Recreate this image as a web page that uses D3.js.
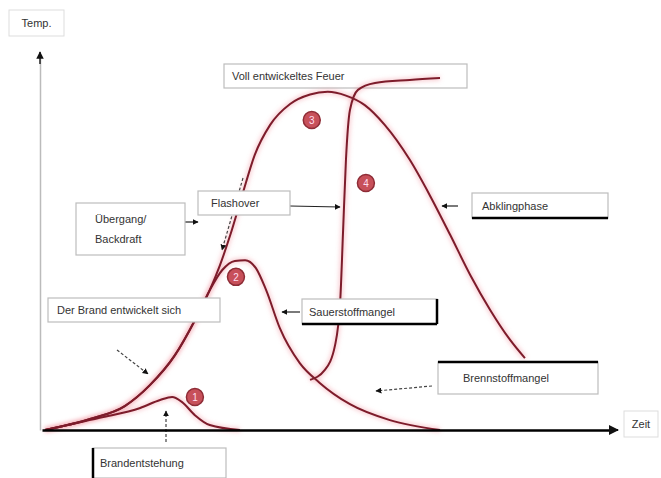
<!DOCTYPE html>
<html>
<head>
<meta charset="utf-8">
<script src="https://cdn.jsdelivr.net/npm/d3@7"></script>
<style>
  body { margin: 0; background: #fff; }
  svg text { font-family: "Liberation Sans", Arial, sans-serif; fill: #333; }
</style>
</head>
<body>
<div id="chart"></div>
<script>
'use strict';

// curves: [zeit, temperatur] in relative units 0..100
const curveGrowth = [[0,0],[7.9,2.9],[14.0,6.3],[18.4,11.8],[22.8,19.7],[26.3,28.9],[28.9,36.8],[30.7,43.4],[32.5,51.3],[34.6,61.8],[36.8,72.4],[39.5,80.3],[43.0,85.8],[46.5,88.3],[49.6,89.0],[52.8,88.0],[56.1,85.5],[59.6,80.3],[64.0,71.1],[67.5,61.8],[71.1,51.3],[74.6,40.8],[78.1,31.6],[81.6,23.7],[84.2,18.9]];
const curveSmall = [[0,0],[9.6,3.2],[16.7,5.8],[20.2,7.9],[22.3,8.7],[24.0,7.4],[26.3,3.9],[28.9,1.3],[34.2,0]];
const curveOxygen = [[0,0],[7.9,2.9],[14.0,6.3],[18.4,11.8],[22.8,19.7],[26.3,28.9],[28.9,36.8],[31.1,42.1],[33.3,44.5],[35.1,44.7],[37.0,42.6],[38.8,36.8],[41.2,26.8],[44.7,17.6],[48.2,12.4],[53.5,6.8],[60.5,2.6],[69.3,0]];
const curveBackdraft = [[46.5,13.2],[49.1,15.8],[50.9,22.4],[51.8,34.2],[52.3,52.6],[52.8,71.1],[53.5,84.2],[54.9,89.5],[57.9,91.3],[64.0,92.1],[69.3,92.6]];

const markerNumbers = ['1', '2', '3', '4'];
const markerPoints = [[26.3,8.7],[33.5,40.3],[46.8,81.6],[56.3,65]];

const axisLabels = ['Temp.', 'Zeit'];
const boxLabels = [
  ['Voll entwickeltes Feuer'],
  ['Flashover'],
  ['Übergang/', 'Backdraft'],
  ['Der Brand entwickelt sich'],
  ['Sauerstoffmangel'],
  ['Abklingphase'],
  ['Brennstoffmangel'],
  ['Brandentstehung']
];

const width = 661, height = 478;
const svg = d3.select('#chart').append('svg')
  .attr('width', width).attr('height', height);

const x = d3.scaleLinear().domain([0, 100]).range([45, 615]);
const y = d3.scaleLinear().domain([0, 100]).range([430, 50]);

const defs = svg.append('defs');
defs.append('marker').attr('id', 'arr')
  .attr('viewBox', '0 0 10 10').attr('refX', 9).attr('refY', 5)
  .attr('markerWidth', 5).attr('markerHeight', 5).attr('orient', 'auto')
  .append('path').attr('d', 'M0,0L10,5L0,10z').attr('fill', '#111');
defs.append('filter').attr('id', 'glow')
  .append('feGaussianBlur').attr('stdDeviation', 2);

const boxFrames = [
  { x: 224, y: 64, w: 243, h: 24, tx: 232, under: true },
  { x: 198, y: 191, w: 92, h: 24, tx: 211 },
  { x: 76, y: 203, w: 109, h: 52, tx: 95 },
  { x: 48, y: 298, w: 172, h: 24, tx: 57 },
  { x: 302, y: 299, w: 135, h: 25, tx: 309, black: ['right', 'bottom'] },
  { x: 472, y: 193, w: 136, h: 25, tx: 482, black: ['bottom'] },
  { x: 438, y: 362, w: 160, h: 32, tx: 463, black: ['top'] },
  { x: 93, y: 448, w: 133, h: 30, tx: 100, black: ['left'] }
];

function drawBox(d, f) {
  const g = svg.append('g');
  g.append('rect').attr('x', f.x).attr('y', f.y).attr('width', f.w).attr('height', f.h)
    .attr('fill', f.under ? 'none' : '#ffffff').attr('stroke', '#bdbdbd').attr('stroke-width', 1.2);
  (f.black || []).forEach(side => {
    const seg = {
      top: [f.x, f.y, f.x + f.w, f.y],
      bottom: [f.x, f.y + f.h, f.x + f.w, f.y + f.h],
      left: [f.x, f.y, f.x, f.y + f.h],
      right: [f.x + f.w, f.y, f.x + f.w, f.y + f.h]
    }[side];
    g.append('line').attr('x1', seg[0]).attr('y1', seg[1]).attr('x2', seg[2]).attr('y2', seg[3])
      .attr('stroke', '#000').attr('stroke-width', 2.5);
  });
  const lh = 20;
  const y0 = f.y + f.h / 2 - (d.length - 1) * lh / 2 + 4;
  d.forEach((t, j) => {
    g.append('text').text(t).attr('x', f.tx).attr('y', y0 + j * lh).attr('font-size', 11);
  });
}

// top box sits under the curves
drawBox(boxLabels[0], boxFrames[0]);

// axis labels
const axisFrames = [{ x: 9, y: 10, w: 55, h: 26 }, { x: 624, y: 411, w: 34, h: 26 }];
const al = svg.append('g').selectAll('g').data(axisLabels).enter().append('g');
al.append('rect')
  .attr('x', (d, i) => axisFrames[i].x).attr('y', (d, i) => axisFrames[i].y)
  .attr('width', (d, i) => axisFrames[i].w).attr('height', (d, i) => axisFrames[i].h)
  .attr('fill', 'none').attr('stroke', '#ddd');
al.append('text').text(d => d)
  .attr('x', (d, i) => axisFrames[i].x + axisFrames[i].w / 2)
  .attr('y', (d, i) => axisFrames[i].y + axisFrames[i].h / 2 + 4)
  .attr('text-anchor', 'middle').attr('font-size', 11);

// y axis (line only)
svg.append('g').attr('transform', 'translate(40,0)')
  .call(d3.axisLeft(d3.scaleLinear().range([430, 58])).ticks(0).tickSizeOuter(0))
  .call(g => g.select('.domain').attr('stroke', '#bbb').attr('stroke-width', 1.5));
svg.append('line').attr('x1', 40).attr('x2', 40).attr('y1', 64).attr('y2', 52)
  .attr('stroke', '#222').attr('stroke-width', 1.5).attr('marker-end', 'url(#arr)');

// curves
const line = d3.line().x(d => x(d[0])).y(d => y(d[1])).curve(d3.curveMonotoneX);
const curves = [curveGrowth, curveSmall, curveOxygen, curveBackdraft];

svg.append('g').attr('filter', 'url(#glow)').selectAll('path')
  .data(curves).enter().append('path')
  .attr('d', line).attr('fill', 'none')
  .attr('stroke', '#f08a96').attr('stroke-width', 5).attr('opacity', 0.4);
svg.append('g').selectAll('path')
  .data(curves).enter().append('path')
  .attr('d', line).attr('fill', 'none')
  .attr('stroke', '#7d1c2b').attr('stroke-width', 2);

// connector arrows  [x1, y1, x2, y2, dashed]
const connectors = [
  [243, 178, 222, 250, true],
  [290, 206, 340, 207, false],
  [185, 222, 198, 222, false],
  [117, 350, 148, 374, true],
  [300, 312, 282, 312, false],
  [458, 206, 442, 206, false],
  [432, 386, 376, 391, true],
  [166, 442, 166, 411, true]
];
svg.append('g').selectAll('line')
  .data(connectors).enter().append('line')
  .attr('x1', d => d[0]).attr('y1', d => d[1]).attr('x2', d => d[2]).attr('y2', d => d[3])
  .attr('stroke', d => d[4] ? '#444' : '#222').attr('stroke-width', 1.2)
  .attr('stroke-dasharray', d => d[4] ? '3,2' : null)
  .attr('marker-end', 'url(#arr)');

// remaining boxes cover curves and connectors
for (let i = 1; i < boxLabels.length; i++) drawBox(boxLabels[i], boxFrames[i]);

// x axis (line only)
svg.append('g').attr('transform', 'translate(0,' + y(0) + ')')
  .call(d3.axisBottom(d3.scaleLinear().range([42, 612])).ticks(0).tickSizeOuter(0))
  .call(g => g.select('.domain').attr('stroke', '#000').attr('stroke-width', 2.5));
svg.append('line').attr('x1', 612).attr('x2', 618).attr('y1', y(0)).attr('y2', y(0))
  .attr('stroke', '#000').attr('stroke-width', 2).attr('marker-end', 'url(#arr)');

// numbered markers
const mk = svg.append('g').selectAll('g')
  .data(markerPoints).enter().append('g')
  .attr('transform', d => 'translate(' + x(d[0]) + ',' + y(d[1]) + ')');
mk.append('circle').attr('r', 8.5).attr('fill', '#c7505a').attr('stroke', '#8e2c36').attr('stroke-width', 1.5);
mk.append('text').text((d, i) => markerNumbers[i])
  .attr('text-anchor', 'middle').attr('dy', 4).attr('font-size', 10)
  .style('fill', '#fde');
</script>
</body>
</html>
